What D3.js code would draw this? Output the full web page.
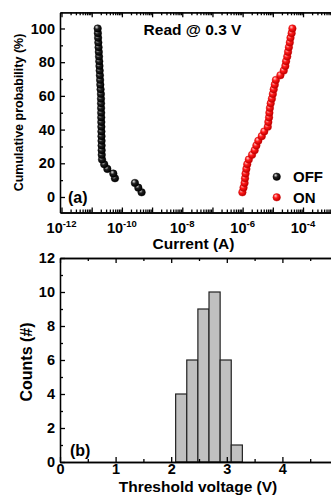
<!DOCTYPE html>
<html>
<head>
<meta charset="utf-8">
<script src="https://cdn.jsdelivr.net/npm/d3@7"></script>
<style>
  body { margin: 0; background: #fff; }
  text { font-family: "Liberation Sans", Arial, sans-serif; font-weight: bold; fill: #000; }
</style>
</head>
<body>
<svg id="chart"></svg>
<script>
// data
const probability = [2.78, 5.56, 8.33, 11.11, 13.89, 16.67, 19.44, 22.22, 25, 27.78, 30.56, 33.33,
  36.11, 38.89, 41.67, 44.44, 47.22, 50, 52.78, 55.56, 58.33, 61.11, 63.89, 66.67,
  69.44, 72.22, 75, 77.78, 80.56, 83.33, 86.11, 88.89, 91.67, 94.44, 97.22, 100];
const offCurrent = [4.5e-10, 3.5e-10, 2.7e-10, 5.9e-11, 5.2e-11, 3.3e-11, 2.6e-11, 2.2e-11, 2.15e-11,
  2.14e-11, 2.13e-11, 2.12e-11, 2.11e-11, 2.1e-11, 2.09e-11, 2.08e-11, 2.07e-11, 2.06e-11,
  2.05e-11, 2.04e-11, 2.03e-11, 2.02e-11, 1.97e-11, 1.93e-11, 1.9e-11, 1.87e-11, 1.84e-11,
  1.81e-11, 1.78e-11, 1.75e-11, 1.72e-11, 1.69e-11, 1.66e-11, 1.63e-11, 1.6e-11, 1.58e-11];
const onCurrent = [0.98e-6, 1.07e-6, 1.16e-6, 1.2e-6, 1.25e-6, 1.33e-6, 1.42e-6, 1.6e-6, 2.05e-6,
  2.5e-6, 2.85e-6, 3.3e-6, 4.3e-6, 5.2e-6, 6.8e-6, 7.1e-6, 7.5e-6, 7.7e-6, 8.0e-6, 8.5e-6,
  9.3e-6, 1.0e-5, 1.07e-5, 1.16e-5, 1.26e-5, 1.78e-5, 2.3e-5, 2.6e-5, 2.75e-5, 3.0e-5,
  3.2e-5, 3.4e-5, 3.65e-5, 3.85e-5, 4.2e-5, 4.45e-5];
const decadeLabels = [-12, -10, -8, -6, -4];
const binStart = [2.08, 2.28, 2.48, 2.68, 2.88, 3.08];
const binCounts = [4, 6, 9, 10, 6, 1];
const binWidth = 0.2;
const voltTicks = [0, 1, 2, 3, 4, 5];
const voltLabels = [0, 1, 2, 3, 4];

const width = 331, height = 496;
const svg = d3.select('#chart').attr('width', width).attr('height', height);

const defs = svg.append('defs');
function ball(id, light, mid, dark) {
  const g = defs.append('radialGradient').attr('id', id)
    .attr('cx', '40%').attr('cy', '38%').attr('r', '60%').attr('fx', '35%').attr('fy', '30%');
  g.append('stop').attr('offset', '0%').attr('stop-color', light);
  g.append('stop').attr('offset', '45%').attr('stop-color', mid);
  g.append('stop').attr('offset', '100%').attr('stop-color', dark);
}
ball('gOff', '#e8e8e8', '#202020', '#000');
ball('gOn', '#ffd0d0', '#ff1a1a', '#c00000');

function styleAxis(g) {
  g.selectAll('path, line').attr('stroke', '#000').attr('stroke-width', 1.3);
  g.selectAll('text').attr('font-size', 14.5).attr('font-family', '"Liberation Sans", Arial, sans-serif')
    .attr('font-weight', 'bold');
}

// ---------- panel (a)
const x1 = d3.scaleLog().domain([Math.pow(10, -12.05), Math.pow(10, -2.5)]).range([60, 348.3]);
const y1 = d3.scaleLinear().domain([-9.2, 109.6]).range([212.5, 12.3]);

const majors = d3.range(-12, -2).map(d => Math.pow(10, d));
const minors = [];
d3.range(-12, -2).forEach(d => { for (let k = 2; k <= 9; k++) minors.push(k * Math.pow(10, d)); });
const minorsIn = minors.filter(v => v <= x1.domain()[1]);

svg.append('g').attr('transform', 'translate(0,212.5)')
  .call(d3.axisBottom(x1).tickValues(majors).tickSize(-5).tickSizeOuter(0).tickFormat(''))
  .call(styleAxis);
svg.append('g').attr('transform', 'translate(0,212.5)')
  .call(d3.axisBottom(x1).tickValues(minorsIn).tickSize(-3).tickSizeOuter(0).tickFormat(''))
  .call(styleAxis);
svg.append('g').attr('transform', 'translate(0,12.3)')
  .call(d3.axisTop(x1).tickValues(majors).tickSize(-5).tickSizeOuter(0).tickFormat(''))
  .call(styleAxis);
svg.append('g').attr('transform', 'translate(0,12.3)')
  .call(d3.axisTop(x1).tickValues(minorsIn).tickSize(-3).tickSizeOuter(0).tickFormat(''))
  .call(styleAxis);
svg.append('g').attr('transform', 'translate(60,0)')
  .call(d3.axisLeft(y1).tickValues([0, 20, 40, 60, 80, 100]).tickSize(-5).tickSizeOuter(0).tickPadding(5))
  .call(styleAxis);
svg.append('g').attr('transform', 'translate(60,0)')
  .call(d3.axisLeft(y1).tickValues([10, 30, 50, 70, 90]).tickSize(-3).tickSizeOuter(0).tickFormat(''))
  .call(styleAxis);

// decade labels with superscripts
decadeLabels.forEach(d => {
  const t = svg.append('text').attr('x', x1(Math.pow(10, d))).attr('y', 232.5)
    .attr('text-anchor', 'middle').attr('font-size', 14.5);
  t.append('tspan').text('10');
  t.append('tspan').attr('font-size', 9.5).attr('dy', -6).text(d);
});

const offData = probability.map((p, i) => ({ p, c: offCurrent[i] }));
const onData = probability.map((p, i) => ({ p, c: onCurrent[i] }));

svg.append('g').selectAll('circle').data(offData).enter().append('circle')
  .attr('cx', d => x1(d.c)).attr('cy', d => y1(d.p)).attr('r', 3.8)
  .attr('fill', 'url(#gOff)').attr('stroke', '#000').attr('stroke-width', 0.4);
svg.append('g').selectAll('circle').data(onData).enter().append('circle')
  .attr('cx', d => x1(d.c)).attr('cy', d => y1(d.p)).attr('r', 3.8)
  .attr('fill', 'url(#gOn)').attr('stroke', '#d00000').attr('stroke-width', 0.4);

svg.append('text').attr('x', 192.5).attr('y', 35).attr('text-anchor', 'middle')
  .attr('font-size', 15.5).text('Read @ 0.3 V');
svg.append('text').attr('x', 68).attr('y', 203).attr('font-size', 16).text('(a)');

// legend
svg.append('circle').attr('cx', 276.7).attr('cy', 176.7).attr('r', 3.8).attr('fill', 'url(#gOff)')
  .attr('stroke', '#000').attr('stroke-width', 0.4);
svg.append('circle').attr('cx', 276.7).attr('cy', 197.3).attr('r', 3.8).attr('fill', 'url(#gOn)')
  .attr('stroke', '#d00000').attr('stroke-width', 0.4);
svg.append('text').attr('x', 293).attr('y', 182).attr('font-size', 15).text('OFF');
svg.append('text').attr('x', 293).attr('y', 202.5).attr('font-size', 15).text('ON');

svg.append('text').attr('x', 193.5).attr('y', 249).attr('text-anchor', 'middle')
  .attr('font-size', 15.5).text('Current (A)');
svg.append('text').attr('transform', 'translate(22.5,112.5) rotate(-90)').attr('text-anchor', 'middle')
  .attr('font-size', 12.5).text('Cumulative probability (%)');

// ---------- panel (b)
const x2 = d3.scaleLinear().domain([0, 5.1]).range([60, 60 + 5.1 * 55.6]);
const y2 = d3.scaleLinear().domain([0, 12]).range([462, 258]);

svg.append('g').selectAll('rect').data(binStart).enter().append('rect')
  .attr('x', d => x2(d)).attr('width', d => x2(d + binWidth) - x2(d))
  .attr('y', (d, i) => y2(binCounts[i])).attr('height', (d, i) => y2(0) - y2(binCounts[i]))
  .attr('fill', '#c0c0c0').attr('stroke', '#222').attr('stroke-width', 1.2);

svg.append('g').attr('transform', 'translate(0,462)')
  .call(d3.axisBottom(x2).tickValues(voltLabels).tickSize(-5).tickSizeOuter(0).tickPadding(1.5)
    .tickFormat(d3.format('d')))
  .call(styleAxis);
svg.append('g').attr('transform', 'translate(0,462)')
  .call(d3.axisBottom(x2).tickValues([0.5, 1.5, 2.5, 3.5, 4.5, 5]).tickSize(-3).tickSizeOuter(0).tickFormat(''))
  .call(styleAxis);
svg.append('g').attr('transform', 'translate(0,258)')
  .call(d3.axisTop(x2).tickValues(voltTicks).tickSize(-5).tickSizeOuter(0).tickFormat(''))
  .call(styleAxis);
svg.append('g').attr('transform', 'translate(0,258)')
  .call(d3.axisTop(x2).tickValues([0.5, 1.5, 2.5, 3.5, 4.5]).tickSize(-3).tickSizeOuter(0).tickFormat(''))
  .call(styleAxis);
svg.append('g').attr('transform', 'translate(60,0)')
  .call(d3.axisLeft(y2).tickValues([0, 2, 4, 6, 8, 10, 12]).tickSize(-5).tickSizeOuter(0).tickPadding(5))
  .call(styleAxis);
svg.append('g').attr('transform', 'translate(60,0)')
  .call(d3.axisLeft(y2).tickValues([1, 3, 5, 7, 9, 11]).tickSize(-3).tickSizeOuter(0).tickFormat(''))
  .call(styleAxis);

svg.append('text').attr('x', 70).attr('y', 456).attr('font-size', 16).text('(b)');
svg.append('text').attr('x', 198).attr('y', 492).attr('text-anchor', 'middle')
  .attr('font-size', 15.5).text('Threshold voltage (V)');
svg.append('text').attr('transform', 'translate(31.5,362) rotate(-90)').attr('text-anchor', 'middle')
  .attr('font-size', 16).text('Counts (#)');
</script>
</body>
</html>
